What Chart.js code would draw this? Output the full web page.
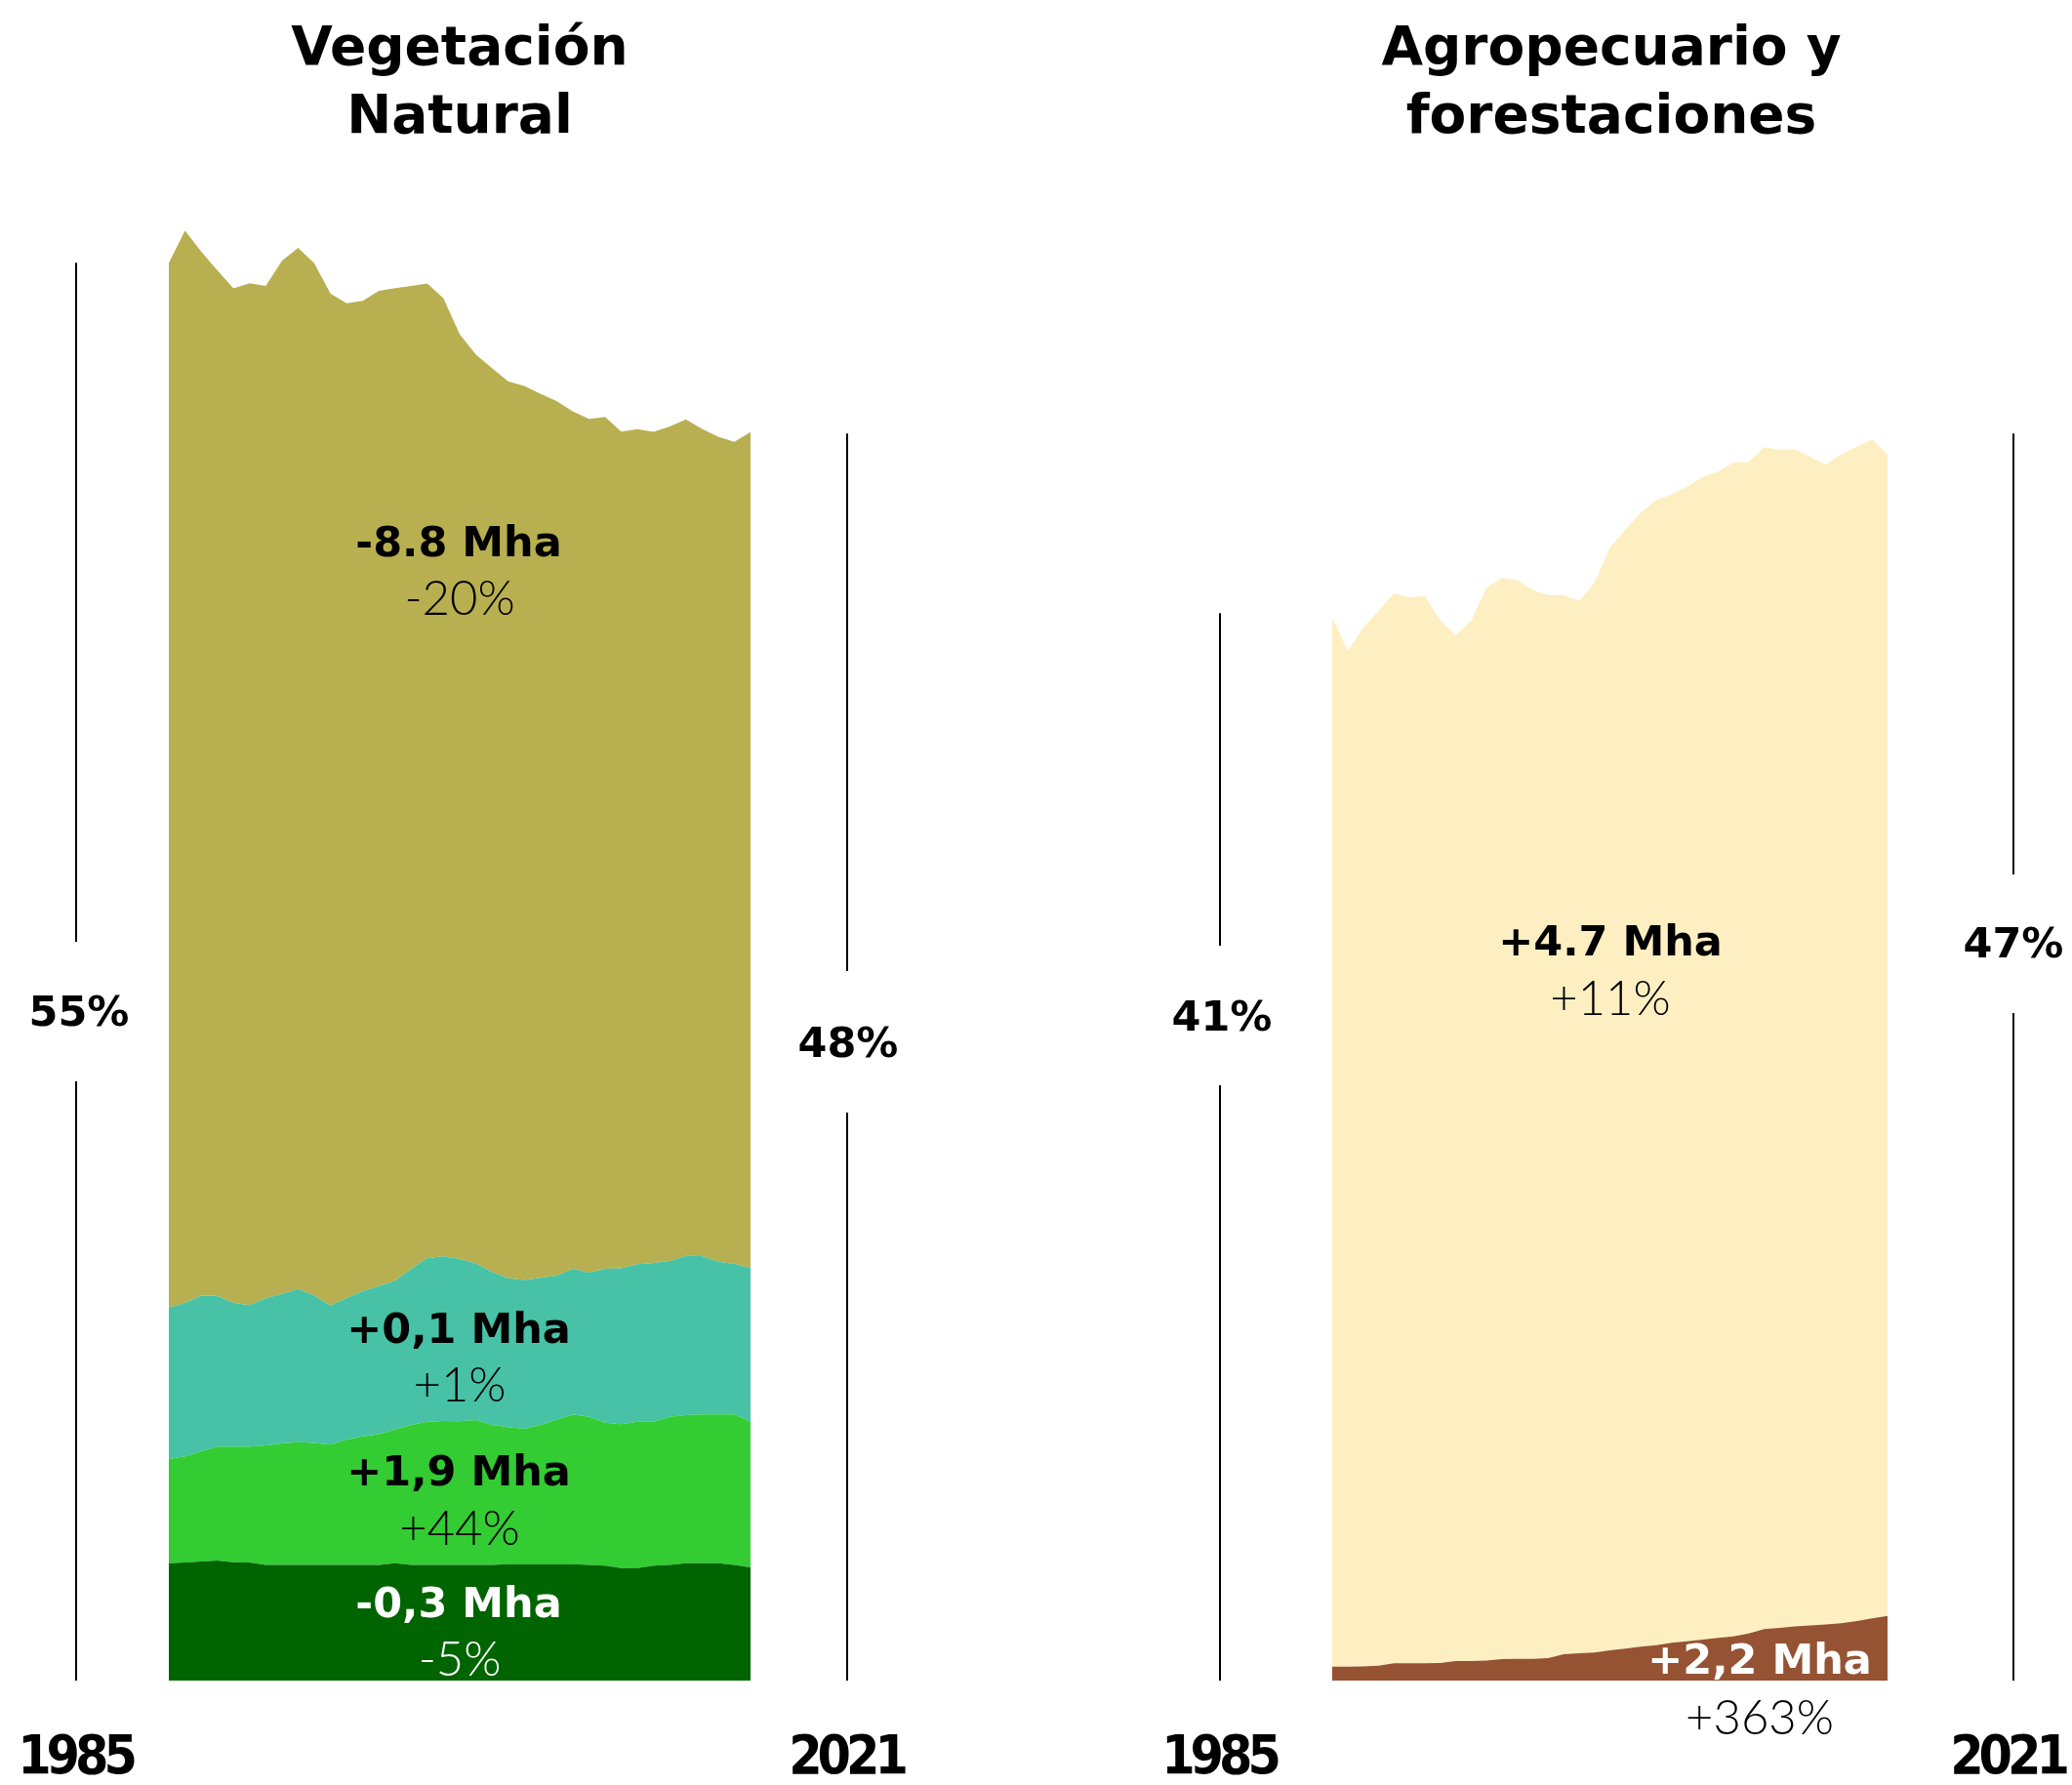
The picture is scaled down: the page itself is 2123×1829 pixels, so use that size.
<!DOCTYPE html>
<html lang="es">
<head>
<meta charset="utf-8">
<title>Vegetación Natural vs Agropecuario y forestaciones</title>
<script src="https://cdn.jsdelivr.net/npm/chart.js@4.4.1/dist/chart.umd.min.js"></script>
<style>
  html, body { margin: 0; padding: 0; background: #ffffff; }
  #stage { position: relative; width: 2123px; height: 1829px; overflow: hidden; background: #fff; }
  canvas { position: absolute; }
  .t { position: absolute; transform: translate(-50%, -50%); white-space: nowrap; line-height: 1; color: #000; }
  .title { font-family: "DejaVu Sans", sans-serif; font-weight: bold; font-size: 55px; line-height: 70px; text-align: center; transform: translateX(-50%); }
  .b { font-family: "DejaVu Sans", sans-serif; font-weight: bold; font-size: 43px; }
  .l { font-family: "Lato", sans-serif; font-weight: 300; font-size: 49px; }
  .yr { font-family: "DejaVu Sans Condensed", "DejaVu Sans", sans-serif; font-weight: bold; font-size: 55px; letter-spacing: -5px; }
  .w { color: #fff; }
</style>
</head>
<body>
<div id="stage">
  <canvas id="cNat" width="1000" height="1580" style="left:0px;top:142px;"></canvas>
  <canvas id="cAgro" width="1123" height="1580" style="left:1000px;top:142px;"></canvas>

  <div class="t title" style="left:471px;top:12px;">Vegetación<br>Natural</div>
  <div class="t title" style="left:1651px;top:12px;">Agropecuario y<br>forestaciones</div>

  <div class="t b" style="left:470px;top:555px;">-8.8 Mha</div>
  <div class="t l" style="left:471px;top:611px;">-20%</div>
  <div class="t b" style="left:470px;top:1361px;">+0,1 Mha</div>
  <div class="t l" style="left:471px;top:1417px;">+1%</div>
  <div class="t b" style="left:470px;top:1507px;">+1,9 Mha</div>
  <div class="t l" style="left:471px;top:1564px;">+44%</div>
  <div class="t b w" style="left:470px;top:1642px;">-0,3 Mha</div>
  <div class="t l w" style="left:471px;top:1698px;">-5%</div>

  <div class="t b" style="left:1650px;top:964px;">+4.7 Mha</div>
  <div class="t l" style="left:1650px;top:1021px;">+11%</div>
  <div class="t b w" style="left:1803px;top:1700px;">+2,2 Mha</div>
  <div class="t l" style="left:1803px;top:1758px;">+363%</div>

  <div class="t b" style="left:81px;top:1036px;">55%</div>
  <div class="t b" style="left:869px;top:1068px;">48%</div>
  <div class="t b" style="left:1252px;top:1041px;">41%</div>
  <div class="t b" style="left:2063px;top:966px;">47%</div>

  <div class="t yr" style="left:77px;top:1798px;">1985</div>
  <div class="t yr" style="left:867px;top:1798px;">2021</div>
  <div class="t yr" style="left:1249px;top:1798px;">1985</div>
  <div class="t yr" style="left:2057px;top:1798px;">2021</div>
</div>

<script>
// ---- Data (million hectares, Mha) ----
const years = [1985,1986,1987,1988,1989,1990,1991,1992,1993,1994,1995,1996,1997,1998,1999,2000,2001,2002,2003,2004,2005,2006,2007,2008,2009,2010,2011,2012,2013,2014,2015,2016,2017,2018,2019,2020,2021];

// Vegetación Natural (stacked, bottom to top)
const bosqueDenso = [4.95,4.98,5.02,5.06,4.99,4.98,4.88,4.88,4.88,4.88,4.88,4.88,4.88,4.88,4.95,4.88,4.88,4.88,4.88,4.88,4.88,4.91,4.91,4.91,4.91,4.91,4.88,4.84,4.74,4.74,4.84,4.88,4.95,4.95,4.95,4.88,4.77];
const humedal = [4.39,4.47,4.64,4.80,4.87,4.88,5.03,5.12,5.17,5.14,5.07,5.28,5.42,5.51,5.63,5.90,6.03,6.06,6.05,6.10,5.90,5.78,5.70,5.87,6.08,6.31,6.24,6.03,6.07,6.17,6.07,6.24,6.24,6.27,6.27,6.34,6.14];
const pastizal = [6.38,6.47,6.57,6.36,6.06,5.97,6.21,6.30,6.46,6.21,5.86,5.97,6.11,6.24,6.28,6.58,6.90,6.95,6.84,6.61,6.45,6.27,6.28,6.20,6.08,6.14,6.08,6.49,6.57,6.65,6.70,6.57,6.72,6.68,6.44,6.35,6.48];
const bosqueAbierto = [44.03,45.20,44.01,43.23,42.77,43.07,42.67,43.55,43.88,43.51,42.66,41.93,41.75,41.95,41.84,41.43,41.08,40.37,38.98,38.31,38.09,37.81,37.68,37.26,36.86,36.14,35.98,35.90,35.27,35.19,35.03,35.17,35.25,34.86,34.77,34.65,35.24];

// Agropecuario y forestaciones (stacked, bottom to top)
const forestaciones = [0.59,0.59,0.60,0.63,0.73,0.73,0.73,0.74,0.82,0.82,0.84,0.91,0.92,0.92,0.95,1.11,1.15,1.18,1.28,1.35,1.43,1.49,1.59,1.66,1.73,1.80,1.86,1.98,2.17,2.22,2.28,2.32,2.37,2.42,2.51,2.62,2.73];
const agropecuario = [44.24,42.81,43.76,44.47,45.10,44.92,45.00,43.96,43.25,43.84,45.23,45.57,45.46,45.05,44.81,44.65,44.37,45.09,46.47,47.16,47.80,48.27,48.40,48.66,49.00,49.15,49.49,49.38,49.82,49.67,49.62,49.26,48.90,49.27,49.49,49.69,48.96];

// Bracket totals (share of territory, drawn as vertical markers)
const natBrackets = [59.77, 52.57];
const agroBrackets = [45.0, 52.57];

const Y_MAX = 65;

// ---- Plugin: vertical bracket lines beside each panel ----
const bracketPlugin = {
  id: 'brackets',
  afterDraw(chart, args, opts) {
    const { ctx, chartArea, scales: { y } } = chart;
    const base = y.getPixelForValue(0);
    ctx.save();
    ctx.strokeStyle = '#000';
    ctx.lineWidth = 2;
    (opts.lines || []).forEach(l => {
      const x = Math.round(l.side === 'left' ? chartArea.left - l.offset : chartArea.right + l.offset);
      const top = y.getPixelForValue(l.value);
      ctx.beginPath();
      ctx.moveTo(x, top); ctx.lineTo(x, l.gapTop);
      ctx.moveTo(x, l.gapBottom); ctx.lineTo(x, base);
      ctx.stroke();
    });
    ctx.restore();
  }
};

function layer(data, color, fill) {
  return {
    data: data,
    backgroundColor: color,
    borderColor: color,
    borderWidth: 0,
    pointRadius: 0,
    pointHoverRadius: 0,
    tension: 0,
    fill: fill
  };
}

function makeChart(id, datasets, padding, lines) {
  return new Chart(document.getElementById(id), {
    type: 'line',
    data: { labels: years, datasets: datasets },
    options: {
      responsive: false,
      animation: false,
      layout: { padding: padding },
      plugins: {
        legend: { display: false },
        tooltip: { enabled: false },
        brackets: { lines: lines }
      },
      scales: {
        x: { type: 'category', offset: false, display: false },
        y: { stacked: true, min: 0, max: Y_MAX, display: false }
      },
      elements: { line: { borderWidth: 0 } }
    },
    plugins: [bracketPlugin]
  });
}

makeChart('cNat', [
  layer(bosqueDenso, '#006400', 'origin'),
  layer(humedal, '#33cc33', '-1'),
  layer(pastizal, '#47c2a6', '-1'),
  layer(bosqueAbierto, '#b8af50', '-1')
], { left: 173, right: 231, top: 0, bottom: 0 }, [
  { side: 'left', offset: 95, value: natBrackets[0], gapTop: 965 - 142, gapBottom: 1108 - 142 },
  { side: 'right', offset: 99, value: natBrackets[1], gapTop: 995 - 142, gapBottom: 1140 - 142 }
]);

makeChart('cAgro', [
  layer(forestaciones, '#955333', 'origin'),
  layer(agropecuario, '#fdefc1', '-1')
], { left: 365, right: 189, top: 0, bottom: 0 }, [
  { side: 'left', offset: 115, value: agroBrackets[0], gapTop: 969 - 142, gapBottom: 1112 - 142 },
  { side: 'right', offset: 129, value: agroBrackets[1], gapTop: 896 - 142, gapBottom: 1038 - 142 }
]);
</script>
</body>
</html>
